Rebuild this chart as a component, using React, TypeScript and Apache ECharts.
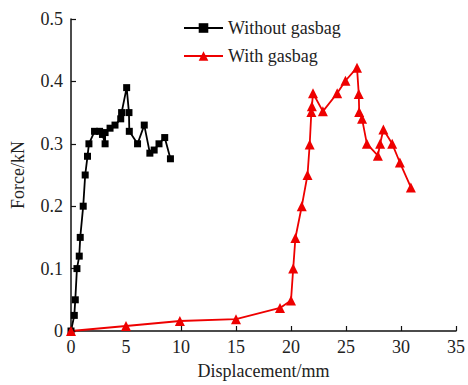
import React, { useEffect, useRef } from "react";
import * as echarts from "echarts";

const withoutX = [0, 0.3, 0.39, 0.54, 0.75, 0.84, 1.11, 1.29, 1.5, 1.63, 2.14, 2.6, 2.86, 3.1, 3.1, 3.55, 4.0, 4.52, 4.6, 5.06, 5.27, 5.3, 6.05, 6.66, 7.17, 7.56, 8.0, 8.52, 9.04];
const withoutY = [0, 0.025, 0.05, 0.1, 0.12, 0.15, 0.2, 0.25, 0.28, 0.3, 0.32, 0.32, 0.315, 0.3, 0.318, 0.325, 0.33, 0.34, 0.35, 0.39, 0.35, 0.32, 0.3, 0.33, 0.285, 0.29, 0.3, 0.31, 0.276];

const withX = [0, 5, 9.9, 15, 19, 20, 20.2, 20.4, 20.98, 21.5, 21.7, 21.85, 21.9, 22.0, 22.9, 24.2, 24.95, 26.0, 26.16, 26.2, 26.46, 26.9, 27.9, 28.1, 28.4, 29.2, 29.9, 30.9];
const withY = [0, 0.008, 0.016, 0.019, 0.037, 0.049, 0.1, 0.149, 0.2, 0.25, 0.299, 0.351, 0.36, 0.381, 0.352, 0.381, 0.401, 0.422, 0.38, 0.351, 0.34, 0.3, 0.281, 0.3, 0.323, 0.3, 0.27, 0.23];

const seriesNames = ["Without gasbag", "With gasbag"];
const xTitle = "Displacement/mm";
const yTitle = "Force/kN";

const FONT = "'Liberation Serif', 'Times New Roman', serif";

export default function App() {
  const ref = useRef<HTMLDivElement>(null);
  useEffect(() => {
    if (!ref.current) return;
    const chart = echarts.init(ref.current, undefined, { renderer: "svg" });
    const zip = (xs: number[], ys: number[]) => xs.map((x, i) => [x, ys[i]]);
    chart.setOption({
      animation: false,
      backgroundColor: "#fff",
      textStyle: { fontFamily: FONT },
      grid: { left: 71, right: 10, top: 19, bottom: 50 },
      legend: {
        orient: "vertical",
        left: 178,
        top: 14,
        itemWidth: 39,
        itemHeight: 12,
        itemGap: 10,
        data: seriesNames,
        textStyle: { fontFamily: FONT, fontSize: 18, color: "#222" },
      },
      xAxis: {
        type: "value",
        min: 0,
        max: 35,
        interval: 5,
        name: xTitle,
        nameLocation: "middle",
        nameGap: 31,
        nameTextStyle: { fontFamily: FONT, fontSize: 18, color: "#222" },
        axisLine: { lineStyle: { color: "#111", width: 1.5 } },
        axisTick: { inside: true, length: 5, lineStyle: { color: "#111", width: 1.2 } },
        axisLabel: { fontFamily: FONT, fontSize: 18, color: "#222", margin: 7 },
        splitLine: { show: false },
      },
      yAxis: {
        type: "value",
        min: 0,
        max: 0.5,
        interval: 0.1,
        name: yTitle,
        nameLocation: "middle",
        nameGap: 44,
        nameTextStyle: { fontFamily: FONT, fontSize: 18, color: "#222" },
        axisLine: { show: true, lineStyle: { color: "#111", width: 1.5 } },
        axisTick: { show: true, inside: true, length: 5, lineStyle: { color: "#111", width: 1.2 } },
        axisLabel: { fontFamily: FONT, fontSize: 18, color: "#222", margin: 8 },
        splitLine: { show: false },
      },
      series: [
        {
          name: seriesNames[0],
          type: "line",
          data: zip(withoutX, withoutY),
          symbol: "rect",
          symbolSize: 7,
          lineStyle: { color: "#000", width: 1.8 },
          itemStyle: { color: "#000" },
        },
        {
          name: seriesNames[1],
          type: "line",
          data: zip(withX, withY),
          symbol: "triangle",
          symbolSize: 10,
          lineStyle: { color: "#ee0000", width: 1.8 },
          itemStyle: { color: "#ee0000" },
        },
      ],
    });
    return () => chart.dispose();
  }, []);
  return <div ref={ref} style={{ width: 468, height: 385, position: "absolute", left: 0, top: 0 }} />;
}
